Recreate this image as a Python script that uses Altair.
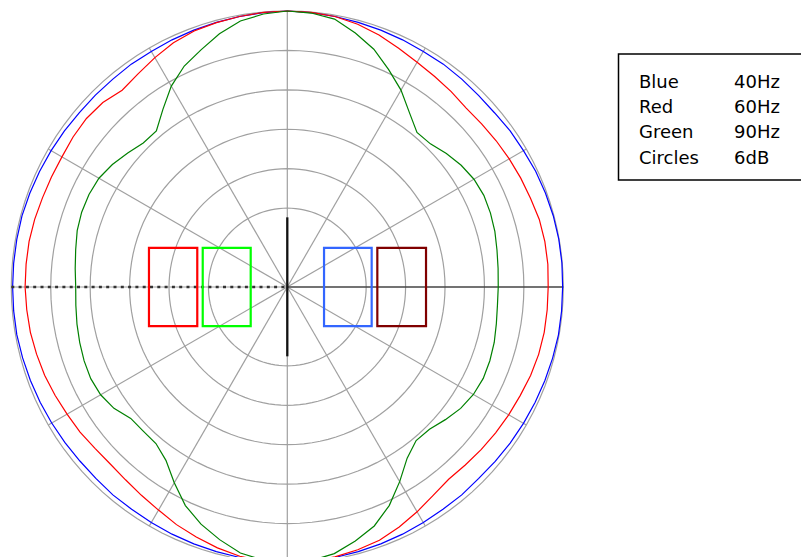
import altair as alt
import pandas as pd
import numpy as np

# ---------------- data ----------------
angles_deg = list(range(0, 360, 5))

blue_db = [-0.1, -0.05, -0.05, -0.1, -0.2, -0.3, -0.5, -0.6, -0.8, -0.8, -0.7, -0.6, -0.6, -0.5, -0.4, -0.3, -0.2, -0.1,
           0.0, -0.1, -0.2, -0.3, -0.4, -0.5, -0.6, -0.6, -0.7, -0.7, -0.7, -0.6, -0.5, -0.4, -0.3, -0.2, -0.2, -0.2,
           -0.2, -0.2, -0.2, -0.3, -0.4, -0.5, -0.6, -0.7, -0.8, -0.8, -0.7, -0.7, -0.6, -0.5, -0.4, -0.3, -0.2, -0.1,
           0.0, -0.1, -0.2, -0.3, -0.4, -0.5, -0.6, -0.7, -0.7, -0.8, -0.7, -0.6, -0.5, -0.4, -0.3, -0.2, -0.1, -0.1]

red_db = [-2.3, -2.2, -2.2, -2.3, -2.6, -2.8, -3.0, -3.2, -3.4, -3.5, -3.2, -2.9, -2.5, -1.9, -1.2, -0.6, -0.2, -0.05,
          0.0, -0.05, -0.2, -0.35, -0.55, -1.0, -1.7, -2.4, -2.9, -2.3, -2.1, -2.2, -2.4, -2.4, -2.35, -2.2, -2.1, -2.1,
          -2.1, -2.2, -2.3, -2.5, -2.7, -3.0, -3.3, -3.5, -3.8, -3.9, -3.7, -3.3, -2.8, -2.1, -1.5, -0.9, -0.4, -0.1,
          0.0, -0.1, -0.3, -0.6, -1.0, -1.7, -2.5, -3.3, -3.8, -3.7, -3.5, -3.3, -3.1, -2.9, -2.6, -2.4, -2.3, -2.3]

green_db = [-9.9, -9.8, -9.6, -9.3, -9.1, -9.0, -9.2, -9.7, -10.4, -11.2, -11.3, -9.6, -7.4, -5.5, -3.5, -2.0, -0.6, -0.15,
            0.0, -0.3, -0.9, -2.1, -3.6, -4.9, -6.7, -9.0, -11.0, -11.0, -10.3, -9.5, -8.9, -8.7, -8.7, -8.9, -9.3, -9.6,
            -9.8, -9.7, -9.5, -9.3, -9.1, -9.0, -9.2, -9.8, -10.9, -11.0, -10.9, -9.8, -7.6, -5.3, -3.6, -2.2, -0.9, -0.25,
            0.0, -0.2, -0.8, -2.0, -3.3, -5.3, -7.8, -10.2, -11.5, -11.4, -10.6, -9.8, -9.3, -9.1, -9.2, -9.4, -9.7, -9.9]

series_names = ["Blue", "Red", "Green"]
series_colors = ["#0000ff", "#ff0000", "#008000"]

floor_db = -42.0                      # centre of the plot
ring_db = [0, -6, -12, -18, -24, -30]  # 6 dB circles
spoke_deg = [30, 60, 90, 120, 150, 210, 240, 270, 300, 330]

legend_names = ["Blue", "Red", "Green", "Circles"]
legend_values = ["40Hz", "60Hz", "90Hz", "6dB"]

box_names = ["red", "green", "blue", "darkred"]
box_x0 = [-21.05, -12.87, 5.59, 13.70]
box_x1 = [-13.70, -5.57, 12.84, 21.11]
box_y0 = [-5.94, -5.94, -5.94, -5.94]
box_y1 = [5.94, 5.94, 5.94, 5.94]
box_colors = ["#ff0000", "#00ff00", "#3366ff", "#800000"]

marker_y = [-10.55, 10.6]

# ---------------- tables ----------------
def polar_xy(deg, db):
    r = np.asarray(db, dtype=float) - floor_db
    t = np.radians(np.asarray(deg, dtype=float))
    return r * np.cos(t), r * np.sin(t)

resp_rows = []
for name, vals in zip(series_names, [blue_db, red_db, green_db]):
    d = angles_deg + [360]
    v = vals + [vals[0]]
    xs, ys = polar_xy(d, v)
    for i, (a, b) in enumerate(zip(xs, ys)):
        resp_rows.append({"series": name, "idx": i, "x": a, "y": b})
resp = pd.DataFrame(resp_rows)

ring_rows = []
ring_angles = list(range(0, 361, 3))
for rd in ring_db:
    xs, ys = polar_xy(ring_angles, [rd] * len(ring_angles))
    for i, (a, b) in enumerate(zip(xs, ys)):
        ring_rows.append({"ring": rd, "idx": i, "x": a, "y": b})
rings = pd.DataFrame(ring_rows)

sx, sy = polar_xy(spoke_deg, [0] * len(spoke_deg))
spokes = pd.DataFrame({"x": 0.0, "y": 0.0, "x2": sx, "y2": sy})
ox, _ = polar_xy([0, 180], [0, 0])
right_axis = pd.DataFrame({"x": [0.0], "y": [0.0], "x2": [ox[0]], "y2": [0.0]})
left_axis = pd.DataFrame({"x": [ox[1]], "y": [0.0], "x2": [0.0], "y2": [0.0]})
marker = pd.DataFrame({"x": [0.0], "y": [marker_y[0]], "x2": [0.0], "y2": [marker_y[1]]})
boxes = pd.DataFrame({"name": box_names, "x": box_x0, "x2": box_x1, "y": box_y0, "y2": box_y1})
one = pd.DataFrame({"k": [0]})

# ---------------- scales ----------------
K = 276.0 / 42.0           # px per dB
W, H = 793, 560
cx, cy = 279.3, 277.0      # centre in plot px
sc_x = alt.Scale(domain=[-cx / K, (W - cx) / K], nice=False, zero=False)
sc_y = alt.Scale(domain=[(cy - H) / K, cy / K], nice=False, zero=False)
X = lambda f="x": alt.X(f"{f}:Q", scale=sc_x, axis=None)
Y = lambda f="y": alt.Y(f"{f}:Q", scale=sc_y, axis=None)

grid_col = "#a0a0a0"

ring_layer = alt.Chart(rings).mark_line(color=grid_col, strokeWidth=1.2).encode(
    x=X(), y=Y(), detail="ring:N", order="idx:Q")
spoke_layer = alt.Chart(spokes).mark_rule(color=grid_col, strokeWidth=1.2).encode(
    x=X(), y=Y(), x2="x2:Q", y2="y2:Q")
left_gray = alt.Chart(left_axis).mark_rule(color=grid_col, strokeWidth=1.2).encode(
    x=X(), y=Y(), x2="x2:Q", y2="y2:Q")
right_layer = alt.Chart(right_axis).mark_rule(color="#444444", strokeWidth=1.3).encode(
    x=X(), y=Y(), x2="x2:Q", y2="y2:Q")

curve_layers = []
for name, col in zip(series_names, series_colors):
    curve_layers.append(
        alt.Chart(resp[resp.series == name]).mark_line(color=col, strokeWidth=1.2).encode(
            x=X(), y=Y(), order="idx:Q"))

dotted = alt.Chart(left_axis).mark_rule(color="#333333", strokeWidth=2.6, strokeDash=[3, 4.3]).encode(
    x=X(), y=Y(), x2="x2:Q", y2="y2:Q")
marker_layer = alt.Chart(marker).mark_rule(color="#111111", strokeWidth=2.3).encode(
    x=X(), y=Y(), x2="x2:Q", y2="y2:Q")

box_layer = alt.Chart(boxes).mark_rect(filled=False, strokeWidth=2.2).encode(
    x=X(), y=Y(), x2="x2:Q", y2="y2:Q",
    stroke=alt.Stroke("name:N", scale=alt.Scale(domain=box_names, range=box_colors), legend=None))

# legend frame: its right edge runs off the page, so clip it to the plot area
legend_frame = alt.Chart(one).mark_rect(filled=False, stroke="black", strokeWidth=1.5, clip=True).encode(
    x=alt.value(610.5), x2=alt.value(W + 40), y=alt.value(44), y2=alt.value(170))

text_style = dict(align="left", baseline="alphabetic", fontSize=18, font="DejaVu Sans",
                  lineHeight=25.4, color="black")
legend_text1 = alt.Chart(one).mark_text(**text_style).encode(
    x=alt.value(631), y=alt.value(77.5), text=alt.value(legend_names))
legend_text2 = alt.Chart(one).mark_text(**text_style).encode(
    x=alt.value(726), y=alt.value(77.5), text=alt.value(legend_values))

chart = alt.layer(
    ring_layer, spoke_layer, left_gray, right_layer,
    *curve_layers,
    dotted, marker_layer, box_layer,
    legend_frame, legend_text1, legend_text2,
).properties(width=W, height=H, padding=0).configure_view(stroke=None)

chart.save("out.html", embed_options={"renderer": "svg", "actions": False})
